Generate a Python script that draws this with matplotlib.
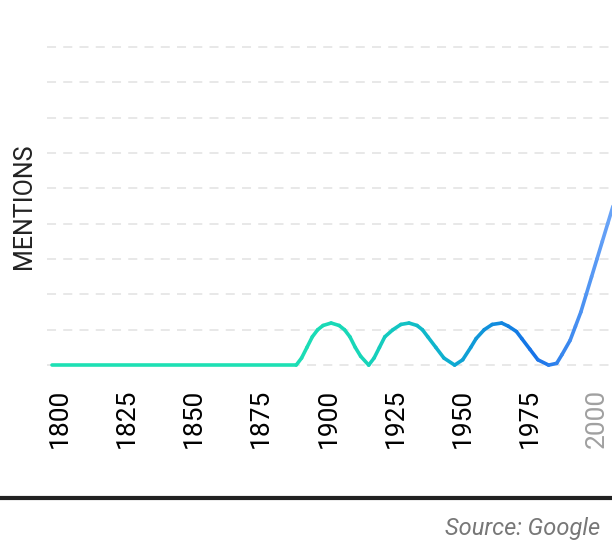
import numpy as np
import matplotlib
matplotlib.use('Agg')
import matplotlib.pyplot as plt
from matplotlib.collections import LineCollection
from matplotlib.colors import LinearSegmentedColormap

years = [1797, 1888, 1890, 1892, 1894, 1896, 1898, 1901, 1904, 1906, 1908, 1910, 1912, 1915,
         1917, 1919, 1921, 1924, 1927, 1930, 1933, 1935, 1937, 1940, 1943, 1947,
         1950, 1953, 1955, 1958, 1961, 1964.5, 1967, 1970, 1972, 1975, 1978, 1982,
         1985, 1987, 1990, 1992, 1994, 1996, 1998, 2000, 2002, 2004, 2006]
mentions = [0, 0, 0.2, 0.5, 0.8, 1.0, 1.12, 1.19, 1.12, 1.0, 0.8, 0.5, 0.25, 0.0,
            0.2, 0.5, 0.8, 1.0, 1.15, 1.19, 1.12, 1.0, 0.8, 0.5, 0.2, 0.0,
            0.15, 0.5, 0.75, 1.0, 1.15, 1.19, 1.1, 0.95, 0.75, 0.45, 0.15, 0.0,
            0.05, 0.3, 0.7, 1.1, 1.5, 2.0, 2.5, 3.0, 3.5, 4.0, 4.5]
tick_years = [1800, 1825, 1850, 1875, 1900, 1925, 1950, 1975, 2000]

fig = plt.figure(figsize=(6.12, 5.44), dpi=100)
ax = fig.add_axes([47 / 612, 1 - 375 / 544, 1 - 47 / 612, (375 - 38) / 544])
ax.set_xlim(1795.2, 2005.6)
ax.set_ylim(-0.28, 9.25)

cmap = LinearSegmentedColormap.from_list('g', ['#1de0b4', '#17d6b8', '#0eaed0', '#1572e8', '#6ea6f8'])
pts = np.array([years, mentions]).T.reshape(-1, 1, 2)
segs = np.concatenate([pts[:-1], pts[1:]], axis=1)
norm = plt.Normalize(1880, 2006)
lc = LineCollection(segs, cmap=cmap, norm=norm, linewidth=2.6, capstyle='round', joinstyle='round', zorder=3)
lc.set_array(np.array(years[:-1]))
ax.add_collection(lc)

for v in range(0, 10):
    ax.axhline(v, color='#e6e6e6', linestyle=(0, (5, 4)), linewidth=1.3, zorder=1)

for s in ax.spines.values():
    s.set_visible(False)
ax.set_yticks([])
ax.set_xticks(tick_years)
ax.set_xticklabels([str(y) for y in tick_years], rotation=90, fontsize=19, family='Roboto')
ax.tick_params(axis='x', length=0, pad=10)
ax.get_xticklabels()[-1].set_color('#a0a0a0')
ax.set_ylabel('MENTIONS', fontsize=18, family='Roboto', labelpad=8, color='#222222')

fig.add_artist(plt.Line2D([0, 1], [1 - 498 / 544] * 2, color='#222222', linewidth=3))
fig.text(600 / 612, 1 - 529 / 544, 'Source: Google', ha='right', va='center',
         fontsize=17, style='italic', color='#777777', family='Roboto')

fig.savefig('out.png', dpi=100)
